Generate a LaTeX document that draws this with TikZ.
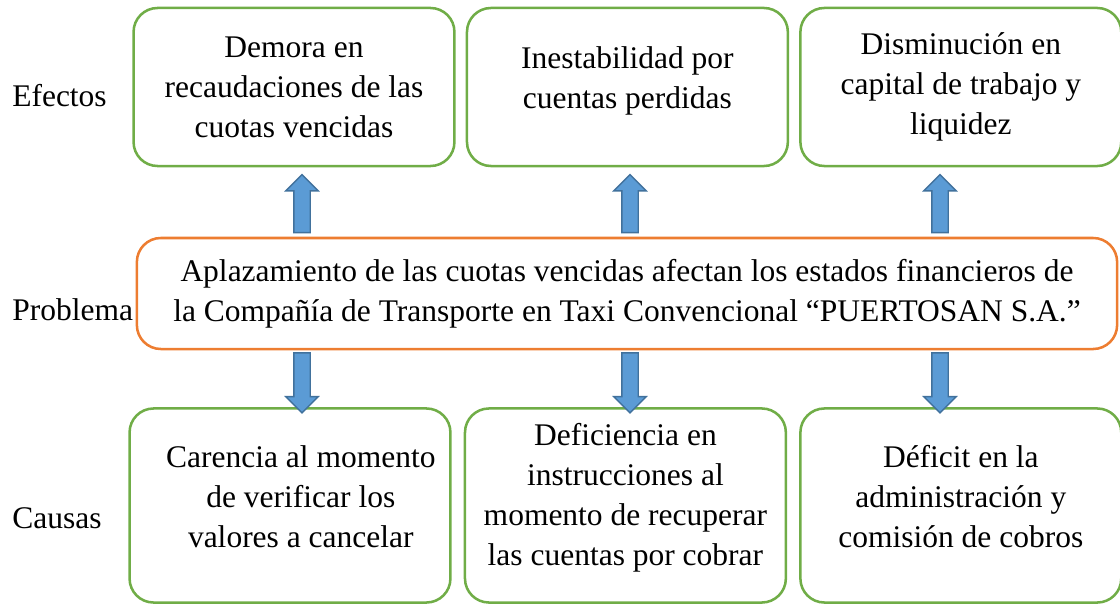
\documentclass[tikz,border=0pt]{standalone}
\usepackage{fontspec}
\setmainfont{Liberation Serif}
\usetikzlibrary{positioning,shapes.arrows}
\definecolor{boxgreen}{RGB}{112,173,71}
\definecolor{boxorange}{RGB}{237,125,49}
\definecolor{arrowfill}{RGB}{91,155,213}
\definecolor{arrowline}{RGB}{65,113,156}

\begin{document}
\begin{tikzpicture}[x=0.025cm, y=-0.025cm,
		every node/.style={font=\fontsize{22.4}{28.4}\selectfont},
		gbox/.style={draw=boxgreen, line width=1.8pt, rounded corners=0.6cm, align=center, inner sep=0, minimum width=8.02cm},
		obox/.style={draw=boxorange, line width=1.8pt, rounded corners=0.6cm, align=center, inner sep=0, minimum width=24.5cm, minimum height=2.775cm},
		txt/.style={align=center, inner sep=0},
		lbl/.style={anchor=base west, inner sep=0},
		blockarr/.style={single arrow, draw=arrowline, fill=arrowfill, line width=1pt, inner xsep=0, inner ysep=0.1875cm, minimum width=0.775cm, single arrow head extend=0.2cm}]
		\useasboundingbox (0,0) rectangle (1120,604);
		% efectos
		\node[gbox, minimum height=3.95cm] (e1) at (294,87) {Demora en\\recaudaciones de las\\cuotas vencidas};
		\node[gbox, minimum height=3.95cm, right=0.25cm of e1] (e2) {};
		\node[txt, yshift=0.16cm] (e2t) at (e2) {Inestabilidad por\\cuentas perdidas};
		\node[gbox, minimum height=3.95cm, right=0.25cm of e2] (e3) {Disminución en\\capital de trabajo y\\liquidez};
		% problema
		\node[obox] (pr) at (627,293.5) {Aplazamiento de las cuotas vencidas afectan los estados financieros de\\la Compañía de Transporte en Taxi Convencional “PUERTOSAN S.A.”};
		% causas
		\node[gbox, minimum height=4.85cm] (c1) at (290,505.5) {};
		\node[gbox, minimum height=4.85cm, right=0.3cm of c1] (c2) {};
		\node[gbox, minimum height=4.85cm, right=0.3cm of c2] (c3) {};
		\node[txt, xshift=0.27cm, yshift=0.22cm] (c1t) at (c1) {Carencia al momento\\de verificar los\\valores a cancelar};
		\node[txt, yshift=0.2cm] (c2t) at (c2) {Deficiencia en\\instrucciones al\\momento de recuperar\\las cuentas por cobrar};
		\node[txt, yshift=0.22cm] (c3t) at (c3) {Déficit en la\\administración y\\comisión de cobros};
		\node[lbl] (ef) at (12,107) {Efectos};
		\node[lbl] (pb) at (12,320) {Problema};
		\node[lbl] (ca) at (12,528) {Causas};
		% flechas
		\foreach \x/\i in {302/1,630/2,940/3} {
			\path (\x,0 |- pr.north) -- ++(0,-58) node[midway, blockarr, minimum height=1.45cm, rotate=90] (u\i) {};
			\path (\x,0 |- pr.south) -- (\x,0 |- c\i.north) node[midway, blockarr, minimum height=1.5cm, rotate=-90] (d\i) {};
		}
	\end{tikzpicture}
\end{document}
